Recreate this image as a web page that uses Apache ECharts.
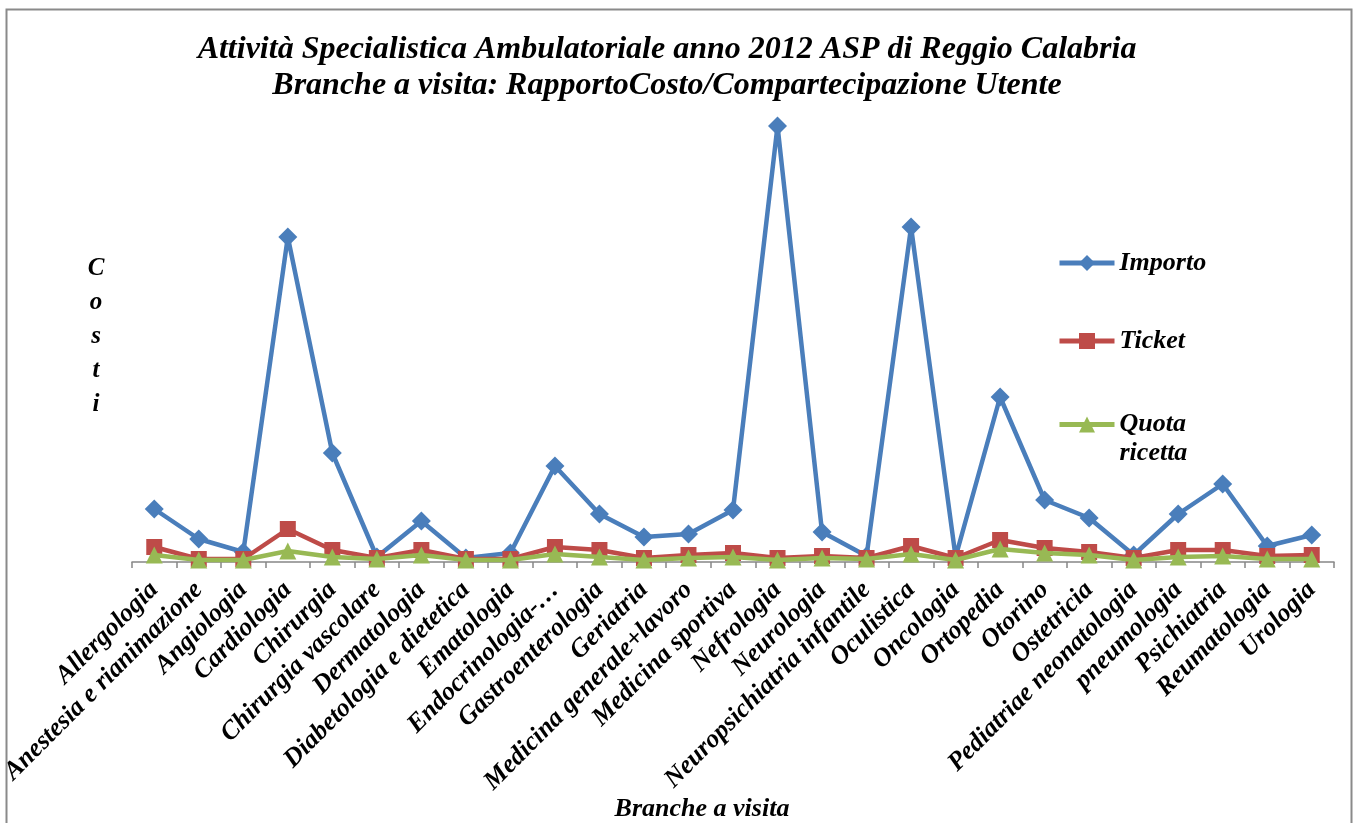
<!DOCTYPE html>
<html><head><meta charset="utf-8">
<script src="https://cdn.jsdelivr.net/npm/echarts@6/dist/echarts.min.js"></script>
<style>html,body{margin:0;padding:0;background:#fff}#c{width:1355px;height:823px}</style>
</head><body><div id="c"></div>
<script>
const categories = ['Allergologia','Anestesia e rianimazione','Angiologia','Cardiologia','Chirurgia','Chirurgia vascolare','Dermatologia','Diabetologia e dietetica','Ematologia','Endocrinologia-…','Gastroenterologia','Geriatria','Medicina generale+lavoro','Medicina sportiva','Nefrologia','Neurologia','Neuropsichiatria infantile','Oculistica','Oncologia','Ortopedia','Otorino','Ostetricia','Pediatriae neonatologia','pneumologia','Psichiatria','Reumatologia','Urologia'];
const importo = [53,23,10,325,109,5,41,4,9,96,48,25,28,52,436,30,6,335,5,165,62,44,7,48,78,16,27];
const ticket  = [15,3,3,33,12,4,12,3,3,15,12,4,7,9,4,6,4,16,4,22,14,10,4,12,12,6,7];
const quota   = [7,2,2,11,5,3,7,2,2,8,5,2,4,5,2,4,3,8,2,13,9,7,2,5,6,3,3];
const seriesNames = ['Importo','Ticket','Quota ricetta'];
const colors = ['#4A7EBB','#BE4B48','#98B954'];

const font = 'Liberation Serif, Times New Roman, serif';
const chart = echarts.init(document.getElementById('c'));
function legendFor(i, top, extra) {
  return Object.assign({
    data: [seriesNames[i]], left: 1057, top: top, orient: 'vertical',
    itemWidth: 55, itemHeight: 20, itemGap: 0, padding: 0,
    lineStyle: {width: 5},
    textStyle: {fontFamily: font, fontStyle: 'italic', fontWeight: 'bold', fontSize: 26, color: '#000'}
  }, extra || {});
}
chart.setOption({
  animation: false,
  backgroundColor: '#fff',
  title: {
    text: 'Attività Specialistica Ambulatoriale anno 2012 ASP di Reggio Calabria\nBranche a visita: RapportoCosto/Compartecipazione Utente',
    left: 662, textAlign: 'center', top: 27,
    textStyle: {fontFamily: font, fontStyle: 'italic', fontWeight: 'bold', fontSize: 32, lineHeight: 36, color: '#000'}
  },
  legend: [
    legendFor(0, 250),
    legendFor(1, 328),
    legendFor(2, 381, {
      formatter: function(n){ return ' \nQuota\nricetta'; },
      textStyle: {fontFamily: font, fontStyle: 'italic', fontWeight: 'bold', fontSize: 26, lineHeight: 29, color: '#000'}
    })
  ],
  grid: {left: 132, right: 21, top: 112, bottom: 261, containLabel: false, outerBoundsMode: 'none'},
  xAxis: {
    type: 'category', data: categories, boundaryGap: true,
    name: 'Branche a visita', nameLocation: 'middle', nameGap: 234, nameMoveOverlap: false,
    nameTextStyle: {fontFamily: font, fontStyle: 'italic', fontWeight: 'bold', fontSize: 26, color: '#000', padding: [0,62,0,0]},
    axisLine: {lineStyle: {color: '#868686', width: 1.5}},
    axisTick: {show: true, length: 6, lineStyle: {color: '#868686', width: 1.5}, alignWithLabel: false},
    axisLabel: {interval: 0, rotate: 45, margin: 24, fontFamily: font, fontStyle: 'italic', fontWeight: 'bold', fontSize: 26, color: '#000'}
  },
  yAxis: {
    type: 'value', min: 0, max: 450,
    name: 'C\no\ns\nt\ni', nameLocation: 'middle', nameRotate: 0, nameGap: 36, nameMoveOverlap: false,
    nameTextStyle: {fontFamily: font, fontStyle: 'italic', fontWeight: 'bold', fontSize: 25, lineHeight: 34, color: '#000', align: 'center', padding: [0,0,58,0]},
    axisLine: {show: false}, axisTick: {show: false}, axisLabel: {show: false}, splitLine: {show: false}
  },
  graphic: [{
    type: 'rect', left: 4, top: 7, shape: {width: 1345, height: 830},
    style: {fill: 'none', stroke: '#8a8a8a', lineWidth: 2}, silent: true
  }],
  series: [
    {name: seriesNames[0], type: 'line', data: importo, symbol: 'diamond', symbolSize: 19,
     lineStyle: {width: 4.5, color: colors[0]}, itemStyle: {color: colors[0]}, z: 3},
    {name: seriesNames[1], type: 'line', data: ticket, symbol: 'rect', symbolSize: 16,
     lineStyle: {width: 4.5, color: colors[1]}, itemStyle: {color: colors[1]}, z: 4},
    {name: seriesNames[2], type: 'line', data: quota, symbol: 'triangle', symbolSize: 17,
     lineStyle: {width: 4.5, color: colors[2]}, itemStyle: {color: colors[2]}, z: 5}
  ]
});
</script></body></html>
